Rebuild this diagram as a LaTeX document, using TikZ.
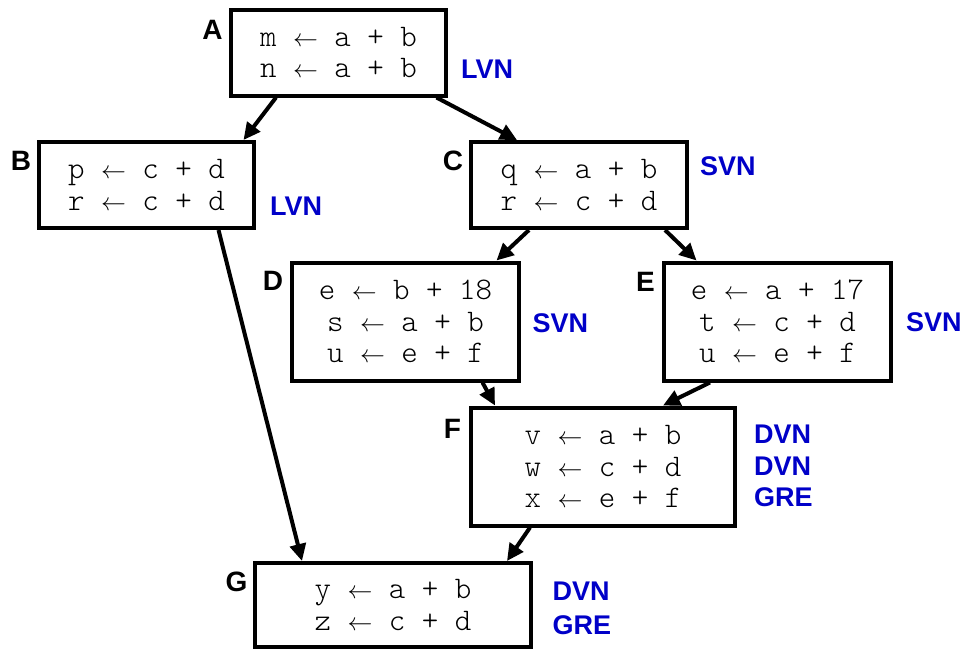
\documentclass[tikz,border=0pt]{standalone}
\usepackage{fontspec}
\setmainfont{Liberation Sans}
\newfontfamily\codefont{Latin Modern Mono Light}
\usetikzlibrary{arrows.meta}
\definecolor{passblue}{RGB}{0,0,200}
% assignment arrow, drawn a little smaller than the code text
\newcommand{\asg}{{\fontsize{24}{24}\selectfont$\leftarrow$}}
\begin{document}
\begin{tikzpicture}[x=1pt,y=-1pt,
  blk/.style={draw=black,line width=4pt,inner sep=0pt,align=center,
    font=\codefont\fontsize{31.4}{31.5}\selectfont},
  blkname/.style={inner sep=0pt,font=\bfseries\fontsize{28}{30}\selectfont},
  pass/.style={inner sep=0pt,anchor=west,text=passblue,
    font=\bfseries\fontsize{27}{30}\selectfont},
  flow/.style={line width=4pt,-{Triangle[length=17pt,width=16pt]}}]
\useasboundingbox (0,0) rectangle (965,648);

% basic blocks
\node[blk,minimum width=215pt,minimum height=86pt] (A) at (338.5,52.5)
  {m \asg{} a + b\\n \asg{} a + b};
\node[blk,minimum width=215pt,minimum height=86pt] (B) at (146.5,185)
  {p \asg{} c + d\\r \asg{} c + d};
\node[blk,minimum width=216pt,minimum height=86pt] (C) at (579,185)
  {q \asg{} a + b\\r \asg{} c + d};
\node[blk,minimum width=227pt,minimum height=118pt] (D) at (405.5,321.5)
  {e \asg{} b + 18\\s \asg{} a + b\\u \asg{} e + f};
\node[blk,minimum width=227pt,minimum height=118pt] (E) at (777.5,321.5)
  {e \asg{} a + 17\\t \asg{} c + d\\u \asg{} e + f};
\node[blk,minimum width=264pt,minimum height=118pt] (F) at (603,466.5)
  {v \asg{} a + b\\w \asg{} c + d\\x \asg{} e + f};
\node[blk,minimum width=276pt,minimum height=84pt] (G) at (393,605)
  {y \asg{} a + b\\z \asg{} c + d};

% block names
\node[blkname] (nA) at (212.5,29.5) {A};
\node[blkname] (nB) at (21,160.5) {B};
\node[blkname] (nC) at (453,160.5) {C};
\node[blkname] (nD) at (273,281) {D};
\node[blkname] (nE) at (645.5,282) {E};
\node[blkname] (nF) at (452.5,429) {F};
\node[blkname] (nG) at (236.5,581.5) {G};

% value-numbering passes
\node[pass] (pA) at (461,69.5) {LVN};
\node[pass] (pB) at (270,206) {LVN};
\node[pass] (pC) at (700,166) {SVN};
\node[pass] (pD) at (532.5,323) {SVN};
\node[pass] (pE) at (906,322) {SVN};
\node[pass] (pF1) at (754,434) {DVN};
\node[pass] (pF2) at (754,466) {DVN};
\node[pass] (pF3) at (754,497.5) {GRE};
\node[pass] (pG1) at (552.5,591) {DVN};
\node[pass] (pG2) at (552.5,625) {GRE};

% control-flow edges
\draw[flow] ([xshift=-62.5pt]A.south) -- ([xshift=97pt]B.north);
\draw[flow] ([xshift=98pt]A.south) -- ([xshift=-62pt]C.north);
\draw[flow] ([xshift=72pt]B.south) -- ([xshift=-91pt]G.north);
\draw[flow] ([xshift=-50pt]C.south) -- ([xshift=91pt]D.north);
\draw[flow] ([xshift=86pt]C.south) -- ([xshift=-81pt]E.north);
\draw[flow] ([xshift=77pt]D.south) -- ([xshift=-108pt]F.north);
\draw[flow] ([xshift=-67.5pt]E.south) -- ([xshift=60pt]F.north);
\draw[flow] ([xshift=-73pt]F.south) -- ([xshift=114pt]G.north);
\end{tikzpicture}
\end{document}
